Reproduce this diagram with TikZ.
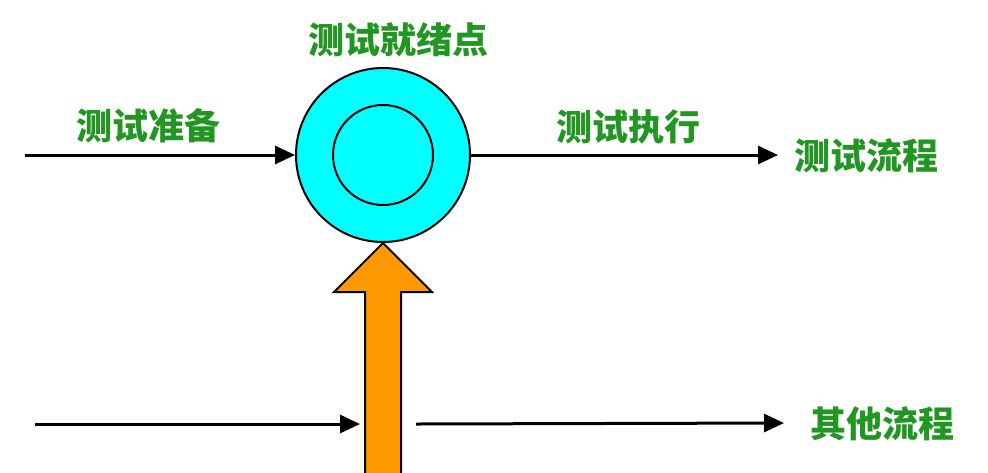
\documentclass[tikz,border=0pt]{standalone}
\usepackage{fontspec}
\newfontfamily\cjk{Noto Sans CJK SC}
\usepackage{tikz}
\usetikzlibrary{arrows.meta,positioning}
\definecolor{lblgreen}{RGB}{34,150,34}
\definecolor{readycyan}{RGB}{0,255,255}
\definecolor{flowang}{RGB}{255,153,0}
\tikzset{>={Triangle[length=10pt,width=9pt]}}
\tikzset{
    flow/.style={->,line width=1.5pt,black},
    lbl/.style={font=\cjk\bfseries\fontsize{18}{20}\selectfont,text=lblgreen,inner sep=0pt}
}

\begin{document}
\begin{tikzpicture}[x=0.5pt,y=-0.5pt]
            \useasboundingbox (0,0) rectangle (988,472);
            % ready point
            \node [circle,draw,line width=1pt,fill=readycyan,minimum size=87pt,inner sep=0pt] (ready) at (383,155) {};
            \node [circle,draw,line width=1pt,minimum size=50pt,inner sep=0pt] (readyin) at (383,155) {};
            \node [lbl] (readylbl) at (398,40) {测试就绪点};
            % test flow
            \coordinate (prepin) at (25,155);
            \coordinate (testout) at (778,155);
            \draw [flow] (prepin) -- (ready.west);
            \draw [flow] (ready.east) -- (testout);
            \node [lbl] (preplbl) at (148,126) {测试准备};
            \node [lbl] (execlbl) at (628,127) {测试执行};
            \node [lbl] (testflow) at (866,156) {测试流程};
            % orange arrow
            \draw [line width=1pt,fill=flowang,line join=miter]
                (365,480) -- (365,292) -- (334,292) -- (383,243) -- (432,292) -- (401,292) -- (401,480);
            % other flow
            \coordinate (otherin) at (35,424);
            \coordinate (otherend) at (360,424);
            \coordinate (otherst) at (416,424);
            \coordinate (otherout) at (784,423);
            \draw [flow] (otherin) -- (otherend);
            \draw [flow] (otherst) -- (otherout);
            \node [lbl] (otherflow) at (882,424) {其他流程};
        \end{tikzpicture}
\end{document}
